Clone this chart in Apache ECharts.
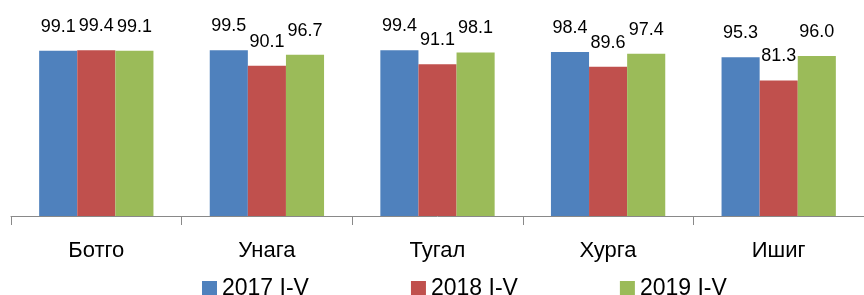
<!DOCTYPE html>
<html>
<head>
<meta charset="utf-8">
<script src="https://cdn.jsdelivr.net/npm/echarts@6/dist/echarts.min.js"></script>
<style>
    html, body { margin: 0; padding: 0; background: #fff; }
    #main { width: 864px; height: 295px; }
</style>
</head>
<body>
<div id="main"></div>
<script>
    // категории и значения (I-V сар)
    const categories = ['Ботго', 'Унага', 'Тугал', 'Хурга', 'Ишиг'];
    const seriesNames = ['2017 I-V', '2018 I-V', '2019 I-V'];
    const values2017 = [99.1, 99.5, 99.4, 98.4, 95.3];
    const values2018 = [99.4, 90.1, 91.1, 89.6, 81.3];
    const values2019 = [99.1, 96.7, 98.1, 97.4, 96.0];

    const colors = ['#4F81BD', '#C0504D', '#9BBB59'];
    const font = '"Liberation Sans", Arial, sans-serif';

    function makeSeries(name, data) {
        return {
            name: name,
            type: 'bar',
            data: data,
            barGap: '0%',
            barCategoryGap: '33%',
            label: {
                show: true,
                position: 'top',
                distance: 15,
                color: '#000',
                fontSize: 18,
                fontFamily: font,
                formatter: function (p) { return p.value.toFixed(1); }
            }
        };
    }

    const myChart = echarts.init(document.getElementById('main'));
    const option = {
        animation: false,
        color: colors,
        grid: { left: 11, width: 862, top: 16, height: 200 },
        legend: {
            data: seriesNames,
            left: 197,
            top: 272,
            icon: 'rect',
            itemWidth: 15,
            itemHeight: 15,
            itemGap: 102,
            textStyle: { color: '#000', fontSize: 23, fontFamily: font }
        },
        xAxis: {
            type: 'category',
            data: categories,
            axisLine: { lineStyle: { color: '#898989', width: 1 } },
            axisTick: { show: true, length: 9, lineStyle: { color: '#898989' } },
            axisLabel: { color: '#000', fontSize: 22, fontFamily: font, margin: 24 }
        },
        yAxis: {
            type: 'value',
            min: 0,
            max: 120,
            show: false,
            splitLine: { show: false }
        },
        series: [
            makeSeries(seriesNames[0], values2017),
            makeSeries(seriesNames[1], values2018),
            makeSeries(seriesNames[2], values2019)
        ]
    };
    myChart.setOption(option);
</script>
</body>
</html>
